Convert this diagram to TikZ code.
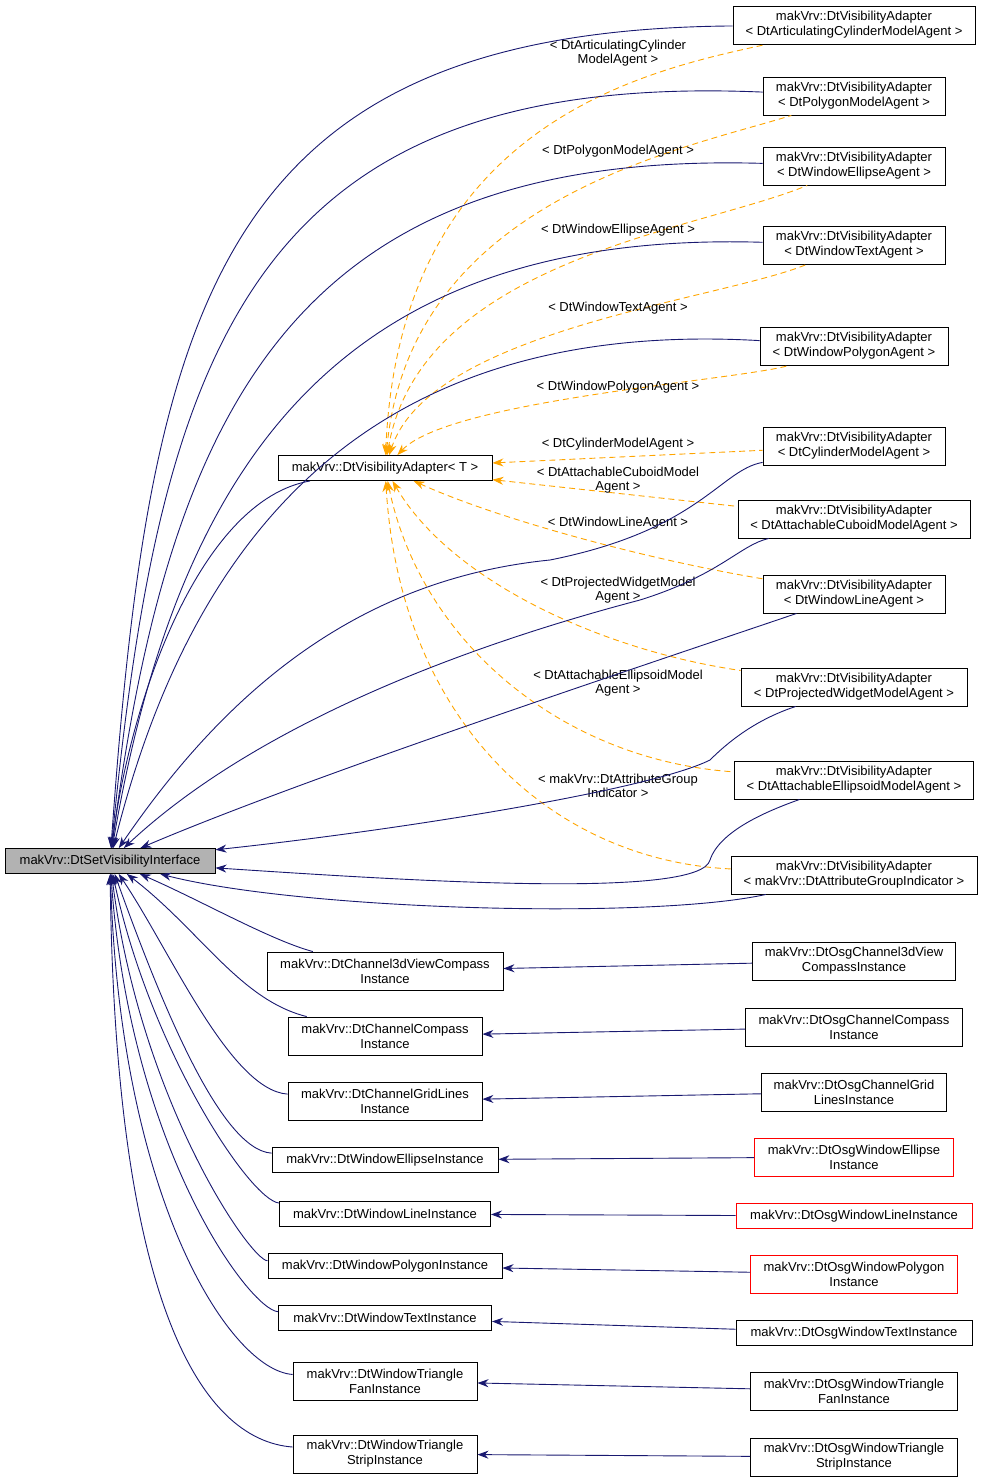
\documentclass[tikz,border=0pt]{standalone}
\usepackage{fontspec}
\setmainfont{Liberation Sans}
\usetikzlibrary{arrows.meta,positioning}
\definecolor{edgenavy}{RGB}{25,25,112}
\definecolor{tplorange}{RGB}{255,165,0}

\begin{document}
\begin{tikzpicture}[x=1pt,y=-1pt,
    cls/.style={rectangle, draw, line width=0.9pt, inner sep=2pt, minimum height=25pt, align=center, font=\fontsize{13}{15}\selectfont},
    cls2/.style={cls, minimum height=38pt},
    bad/.style={draw=red},
    inh/.style={{Stealth[length=11pt,width=8pt]}-, line width=0.9pt, draw=edgenavy, fill=none},
    tpl/.style={{Stealth[length=11pt,width=8pt]}-, line width=0.9pt, draw=tplorange, dash pattern=on 6pt off 4pt, fill=none},
    lbl/.style={align=center, inner sep=0pt, font=\fontsize{13}{14.5}\selectfont}
]
    \useasboundingbox (0,0) rectangle (984,1484);

    % Base and template
    \node[cls, fill=gray!60, minimum width=210pt] (base) at (110,861) {makVrv::DtSetVisibilityInterface};
    \node[cls, minimum width=214pt] (tmpl) at (385,468) {makVrv::DtVisibilityAdapter< T >};

    % Adapter instances
    \node[cls2, minimum width=242pt] (a1) at (854,25) {makVrv::DtVisibilityAdapter\\< DtArticulatingCylinderModelAgent >};
    \node[cls2, minimum width=182pt] (a2) at (854,96) {makVrv::DtVisibilityAdapter\\< DtPolygonModelAgent >};
    \node[cls2, minimum width=182pt] (a3) at (854,166) {makVrv::DtVisibilityAdapter\\< DtWindowEllipseAgent >};
    \node[cls2, minimum width=182pt] (a4) at (854,245) {makVrv::DtVisibilityAdapter\\< DtWindowTextAgent >};
    \node[cls2, minimum width=188pt] (a5) at (854,346) {makVrv::DtVisibilityAdapter\\< DtWindowPolygonAgent >};
    \node[cls2, minimum width=182pt] (a6) at (854,446) {makVrv::DtVisibilityAdapter\\< DtCylinderModelAgent >};
    \node[cls2, minimum width=232pt] (a7) at (854,519) {makVrv::DtVisibilityAdapter\\< DtAttachableCuboidModelAgent >};
    \node[cls2, minimum width=182pt] (a8) at (854,594) {makVrv::DtVisibilityAdapter\\< DtWindowLineAgent >};
    \node[cls2, minimum width=226pt] (a9) at (854,687) {makVrv::DtVisibilityAdapter\\< DtProjectedWidgetModelAgent >};
    \node[cls2, minimum width=239pt] (a10) at (854,780) {makVrv::DtVisibilityAdapter\\< DtAttachableEllipsoidModelAgent >};
    \node[cls2, minimum width=246pt] (a11) at (854,875) {makVrv::DtVisibilityAdapter\\< makVrv::DtAttributeGroupIndicator >};

    % Middle column
    \node[cls2, minimum width=236pt] (m1) at (385,971) {makVrv::DtChannel3dViewCompass\\Instance};
    \node[cls2, minimum width=194pt] (m2) at (385,1036) {makVrv::DtChannelCompass\\Instance};
    \node[cls2, minimum width=194pt] (m3) at (385,1101) {makVrv::DtChannelGridLines\\Instance};
    \node[cls, minimum width=226pt] (m4) at (385,1160) {makVrv::DtWindowEllipseInstance};
    \node[cls, minimum width=211pt] (m5) at (385,1214) {makVrv::DtWindowLineInstance};
    \node[cls, minimum width=234pt] (m6) at (385,1266) {makVrv::DtWindowPolygonInstance};
    \node[cls, minimum width=213pt] (m7) at (385,1318) {makVrv::DtWindowTextInstance};
    \node[cls2, minimum width=184pt] (m8) at (385,1381) {makVrv::DtWindowTriangle\\FanInstance};
    \node[cls2, minimum width=184pt] (m9) at (385,1454) {makVrv::DtWindowTriangle\\StripInstance};

    % Right column
    \node[cls2, minimum width=203pt] (r1) at (854,961) {makVrv::DtOsgChannel3dView\\CompassInstance};
    \node[cls2, minimum width=217pt] (r2) at (854,1027) {makVrv::DtOsgChannelCompass\\Instance};
    \node[cls2, minimum width=185pt] (r3) at (854,1092) {makVrv::DtOsgChannelGrid\\LinesInstance};
    \node[cls2, bad, minimum width=199pt] (r4) at (854,1157) {makVrv::DtOsgWindowEllipse\\Instance};
    \node[cls, bad, minimum width=236pt] (r5) at (854,1216) {makVrv::DtOsgWindowLineInstance};
    \node[cls2, bad, minimum width=207pt] (r6) at (854,1274) {makVrv::DtOsgWindowPolygon\\Instance};
    \node[cls, minimum width=236pt] (r7) at (854,1333) {makVrv::DtOsgWindowTextInstance};
    \node[cls2, minimum width=207pt] (r8) at (854,1391) {makVrv::DtOsgWindowTriangle\\FanInstance};
    \node[cls2, minimum width=207pt] (r9) at (854,1457) {makVrv::DtOsgWindowTriangle\\StripInstance};

    % Template arguments
    \draw[tpl] (tmpl) .. controls (400,120) and (650,70) .. (a1);
    \draw[tpl] (tmpl) .. controls (410,200) and (680,150) .. (a2);
    \draw[tpl] (tmpl) .. controls (420,260) and (700,230) .. (a3);
    \draw[tpl] (tmpl) .. controls (430,330) and (720,300) .. (a4);
    \draw[tpl] (tmpl) .. controls (450,400) and (740,380) .. (a5);
    \draw[tpl] (tmpl) -- (a6);
    \draw[tpl] (tmpl) -- (a7);
    \draw[tpl] (tmpl) .. controls (500,520) and (650,560) .. (a8);
    \draw[tpl] (tmpl) .. controls (450,580) and (600,650) .. (a9);
    \draw[tpl] (tmpl) .. controls (420,640) and (560,760) .. (a10);
    \draw[tpl] (tmpl) .. controls (400,720) and (550,860) .. (a11);

    \node[lbl] (l1) at (618,53) {< DtArticulatingCylinder\\ModelAgent >};
    \node[lbl] (l2) at (618,151) {< DtPolygonModelAgent >};
    \node[lbl] (l3) at (618,230) {< DtWindowEllipseAgent >};
    \node[lbl] (l4) at (618,308) {< DtWindowTextAgent >};
    \node[lbl] (l5) at (618,387) {< DtWindowPolygonAgent >};
    \node[lbl] (l6) at (618,444) {< DtCylinderModelAgent >};
    \node[lbl] (l7) at (618,480) {< DtAttachableCuboidModel\\Agent >};
    \node[lbl] (l8) at (618,523) {< DtWindowLineAgent >};
    \node[lbl] (l9) at (618,590) {< DtProjectedWidgetModel\\Agent >};
    \node[lbl] (l10) at (618,683) {< DtAttachableEllipsoidModel\\Agent >};
    \node[lbl] (l11) at (618,786) {< makVrv::DtAttributeGroup\\Indicator >};

    % Inheritance to base
    \draw[inh] (base) .. controls (130,700) and (200,500) .. (tmpl);
    \draw[inh] (base) .. controls (150,300) and (220,30) .. (a1);
    \draw[inh] (base) .. controls (160,350) and (250,70) .. (a2);
    \draw[inh] (base) .. controls (170,400) and (300,150) .. (a3);
    \draw[inh] (base) .. controls (180,450) and (350,230) .. (a4);
    \draw[inh] (base) .. controls (200,500) and (400,320) .. (a5);
    \draw[inh] (base) .. controls (220,700) and (350,580) .. (550,560) .. controls (700,530) and (720,470) .. (a6);
    \draw[inh] (base) .. controls (250,730) and (450,650) .. (640,600) .. controls (720,575) and (740,545) .. (a7);
    \draw[inh] (base) .. controls (300,780) and (600,680) .. (a8);
    \draw[inh] (base) .. controls (400,830) and (650,790) .. (710,760) .. controls (740,730) and (770,715) .. (a9);
    \draw[inh] (base) .. controls (400,880) and (700,900) .. (710,860) .. controls (720,830) and (770,810) .. (a10);
    \draw[inh] (base) .. controls (300,910) and (650,920) .. (a11);

    \draw[inh] (base) .. controls (200,900) and (270,940) .. (m1);
    \draw[inh] (base) .. controls (200,930) and (240,1000) .. (m2);
    \draw[inh] (base) .. controls (170,950) and (230,1090) .. (m3);
    \draw[inh] (base) .. controls (160,1000) and (220,1150) .. (m4);
    \draw[inh] (base) .. controls (150,1050) and (250,1200) .. (m5);
    \draw[inh] (base) .. controls (140,1100) and (250,1260) .. (m6);
    \draw[inh] (base) .. controls (130,1150) and (250,1310) .. (m7);
    \draw[inh] (base) .. controls (120,1200) and (230,1370) .. (m8);
    \draw[inh] (base) .. controls (115,1300) and (200,1440) .. (m9);

    % Osg implementations
    \foreach \i in {1,...,9} {
        \draw[inh] (m\i) -- (r\i);
    }
\end{tikzpicture}
\end{document}
